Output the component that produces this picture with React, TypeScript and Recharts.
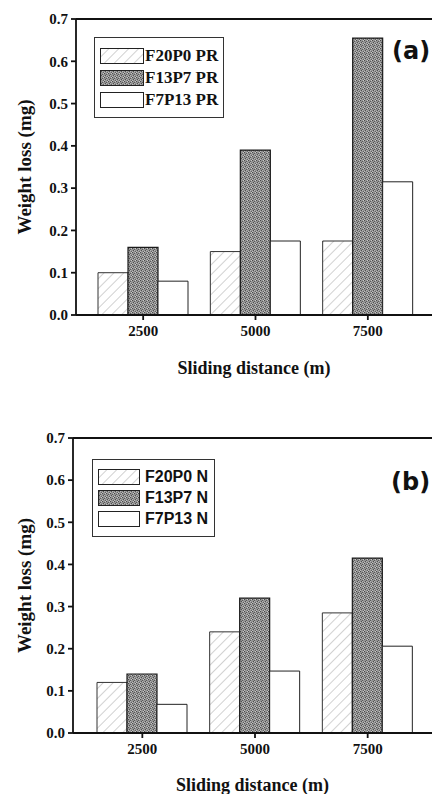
import { BarChart, Bar, XAxis, YAxis, ReferenceLine, Legend } from 'recharts';

const distances = ['2500', '5000', '7500'];

const namesA = ['F20P0 PR', 'F13P7 PR', 'F7P13 PR'];
const f20p0PR = [0.1, 0.15, 0.175];
const f13p7PR = [0.16, 0.39, 0.655];
const f7p13PR = [0.08, 0.175, 0.315];

const namesB = ['F20P0 N', 'F13P7 N', 'F7P13 N'];
const f20p0N = [0.12, 0.24, 0.285];
const f13p7N = [0.14, 0.32, 0.415];
const f7p13N = [0.068, 0.147, 0.206];

const yTicks = [0, 0.1, 0.2, 0.3, 0.4, 0.5, 0.6, 0.7];

const SERIF = '"Liberation Serif", "Times New Roman", serif';
const SANS = '"Liberation Sans", Arial, sans-serif';

const toRows = (s1: number[], s2: number[], s3: number[]) =>
  distances.map((d, i) => ({ d, s1: s1[i], s2: s2[i], s3: s3[i] }));

function Patterns({ id }: { id: string }) {
  return (
    <defs>
      <pattern id={`hatch-${id}`} patternUnits="userSpaceOnUse" width={7} height={7} patternTransform="rotate(45)">
        <rect width={7} height={7} fill="#fff" />
        <line x1={0} y1={0} x2={0} y2={7} stroke="#999" strokeWidth={0.9} />
      </pattern>
      <pattern id={`dots-${id}`} patternUnits="userSpaceOnUse" width={4} height={4}>
        <rect width={4} height={4} fill="#939393" />
        <rect x={0} y={0} width={1} height={1} fill="#4a4a4a" />
        <rect x={2} y={1} width={1} height={1} fill="#5a5a5a" />
        <rect x={1} y={2} width={1} height={1} fill="#505050" />
        <rect x={3} y={3} width={1} height={1} fill="#606060" />
        <rect x={3} y={0} width={1} height={1} fill="#c8c8c8" />
        <rect x={0} y={3} width={1} height={1} fill="#bebebe" />
        <rect x={2} y={2} width={1} height={1} fill="#b5b5b5" />
      </pattern>
    </defs>
  );
}

function LegendBox({ id, names, font, size, rowTop, gap, sw, textLeft, w, h }: any) {
  const fills = [`url(#hatch-${id})`, `url(#dots-${id})`, '#fff'];
  return (
    <div style={{ width: w, height: h, border: '1.5px solid #333', boxSizing: 'border-box', position: 'relative', background: '#fff' }}>
      {names.map((n: string, i: number) => (
        <div key={n} style={{ position: 'absolute', left: 0, top: rowTop + i * gap - 9, height: 18, width: w }}>
          <svg width={sw + 6} height={18} style={{ position: 'absolute', left: 5, top: 0 }}>
            <rect x={0.5} y={1.5} width={sw} height={15} fill={fills[i]} stroke="#222" strokeWidth={1} />
          </svg>
          <span style={{ position: 'absolute', left: textLeft, top: 0, fontFamily: font, fontWeight: 'bold', fontSize: size, color: '#111', whiteSpace: 'nowrap', lineHeight: '18px' }}>{n}</span>
        </div>
      ))}
    </div>
  );
}

function Panel({ id, rows, names, yAxisW, pad, height, xAxisH, labelOffset, legendStyle, legendProps, tag }: any) {
  return (
    <div style={{ position: 'relative', width: 432, height }}>
      <BarChart width={432} height={height} data={rows} margin={{ top: 19, right: 0, bottom: 0, left: 0 }} barGap={0} barSize={30}>
        <Patterns id={id} />
        <XAxis
          dataKey="d"
          padding={pad}
          height={xAxisH}
          stroke="#111"
          strokeWidth={1.8}
          tickSize={5}
          tickMargin={5}
          tick={{ fill: '#111', fontSize: 15, fontFamily: SERIF, fontWeight: 'bold' }}
          label={{ value: 'Sliding distance (m)', position: 'insideBottom', offset: labelOffset, style: { fill: '#111', fontSize: 18, fontFamily: SERIF, fontWeight: 'bold' } }}
        />
        <YAxis
          domain={[0, 0.7]}
          ticks={yTicks}
          width={yAxisW}
          stroke="#111"
          strokeWidth={1.8}
          tickSize={5}
          tickMargin={3}
          tickFormatter={(v: number) => v.toFixed(1)}
          tick={{ fill: '#111', fontSize: 15, fontFamily: SERIF, fontWeight: 'bold' }}
          label={{ value: 'Weight loss (mg)', angle: -90, position: 'insideLeft', offset: 24, style: { textAnchor: 'middle', fill: '#111', fontSize: 19, fontFamily: SERIF, fontWeight: 'bold' } }}
        />
        <ReferenceLine y={0.7} stroke="#111" strokeWidth={1.8} />
        <Bar dataKey="s1" name={names[0]} fill={`url(#hatch-${id})`} stroke="#333" strokeWidth={1} isAnimationActive={false} />
        <Bar dataKey="s2" name={names[1]} fill={`url(#dots-${id})`} stroke="#1a1a1a" strokeWidth={1.2} isAnimationActive={false} />
        <Bar dataKey="s3" name={names[2]} fill="#fff" stroke="#222" strokeWidth={1} isAnimationActive={false} />
        <Legend
          layout="vertical"
          align="center"
          verticalAlign="middle"
          wrapperStyle={legendStyle}
          content={() => <LegendBox id={id} names={names} {...legendProps} />}
        />
      </BarChart>
      <div style={{ position: 'absolute', left: tag.x, top: tag.y, fontFamily: '"DejaVu Sans", sans-serif', fontWeight: 'bold', fontSize: 24, color: '#111', lineHeight: '30px' }}>
        {tag.text}
      </div>
    </div>
  );
}

export default function App() {
  return (
    <div style={{ position: 'absolute', left: 0, top: 0, width: 432, height: 794, background: '#fff', overflow: 'hidden' }}>
      <div style={{ position: 'absolute', left: 0, top: 0 }}>
        <Panel
          id="a"
          rows={toRows(f20p0PR, f13p7PR, f7p13PR)}
          names={namesA}
          yAxisW={76}
          pad={{ left: 11, right: 8 }}
          height={380}
          xAxisH={65}
          labelOffset={6}
          legendStyle={{ left: 94, top: 37, width: 130, height: 81 }}
          legendProps={{ font: SERIF, size: 17, rowTop: 18, gap: 22, sw: 43, textLeft: 50, w: 130, h: 81 }}
          tag={{ text: '(a)', x: 392, y: 36 }}
        />
      </div>
      <div style={{ position: 'absolute', left: 0, top: 419 }}>
        <Panel
          id="b"
          rows={toRows(f20p0N, f13p7N, f7p13N)}
          names={namesB}
          yAxisW={73}
          pad={{ left: 13, right: 8 }}
          height={375}
          xAxisH={61}
          labelOffset={3}
          legendStyle={{ left: 92, top: 40, width: 123, height: 78 }}
          legendProps={{ font: SANS, size: 16, rowTop: 17, gap: 21, sw: 41, textLeft: 52, w: 123, h: 78 }}
          tag={{ text: '(b)', x: 391, y: 48 }}
        />
      </div>
    </div>
  );
}
